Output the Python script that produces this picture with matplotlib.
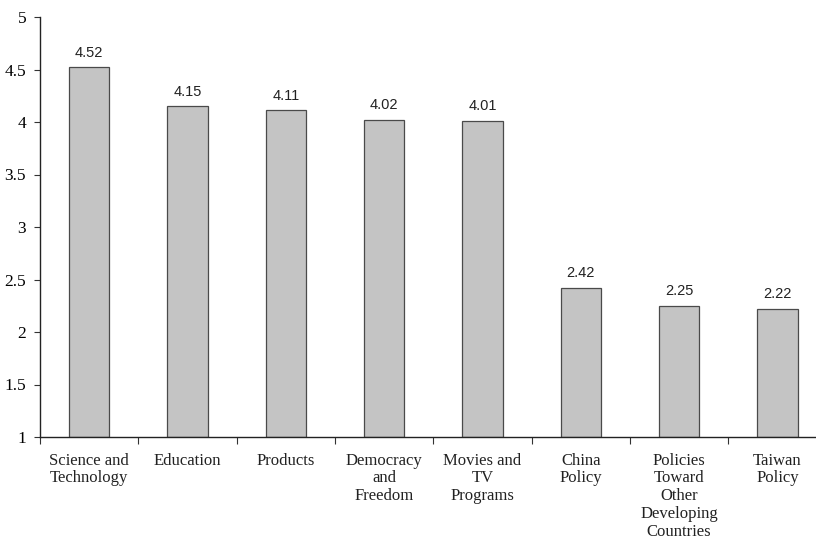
import matplotlib
matplotlib.use("Agg")
import matplotlib.pyplot as plt
import numpy as np

categories = ["Science and\nTechnology", "Education", "Products", "Democracy\nand\nFreedom",
              "Movies and\nTV\nPrograms", "China\nPolicy", "Policies\nToward\nOther\nDeveloping\nCountries",
              "Taiwan\nPolicy"]
values = [4.52, 4.15, 4.11, 4.02, 4.01, 2.42, 2.25, 2.22]
yticks = [1, 1.5, 2, 2.5, 3, 3.5, 4, 4.5, 5]
ytick_labels = ["1", "1.5", "2", "2.5", "3", "3.5", "4", "4.5", "5"]

fig = plt.figure(figsize=(8.16, 5.42), dpi=100)
ax = fig.add_axes([40/816, 105/542, 786.6/816, 420/542])
x = np.arange(len(values))
base = 1
ax.bar(x, np.array(values) - base, bottom=base, width=0.41, color="#c4c4c4",
       edgecolor="#4a4a4a", linewidth=0.9)
for xi, v in zip(x, values):
    ax.annotate(f"{v:.2f}", (xi, v), xytext=(0, 5.5), textcoords="offset points",
                ha="center", va="bottom",
                fontsize=10.5, family="Liberation Sans", color="#222222")

ax.set_xlim(-0.5, len(values) - 0.5)
ax.set_ylim(1, 5)
ax.set_yticks(yticks)
ax.set_yticklabels(ytick_labels, family="Liberation Serif", fontsize=12.5)
ax.set_xticks(np.arange(len(values) + 1) - 0.5)
ax.set_xticklabels([])
ax.tick_params(axis="x", direction="out", length=5, width=0.8, color="#333333")
ax.tick_params(axis="y", direction="out", length=4, width=0.8, color="#333333", pad=6)
for s in ["top", "right"]:
    ax.spines[s].set_visible(False)
for s in ["left", "bottom"]:
    ax.spines[s].set_linewidth(1.0)
    ax.spines[s].set_color("#222222")

for xi, lab in zip(x, categories):
    ax.text(xi, -0.037, lab, transform=ax.get_xaxis_transform(), ha="center", va="top",
            family="Liberation Serif", fontsize=12, linespacing=1.16, color="#222222")

fig.savefig("out.png", dpi=100)
